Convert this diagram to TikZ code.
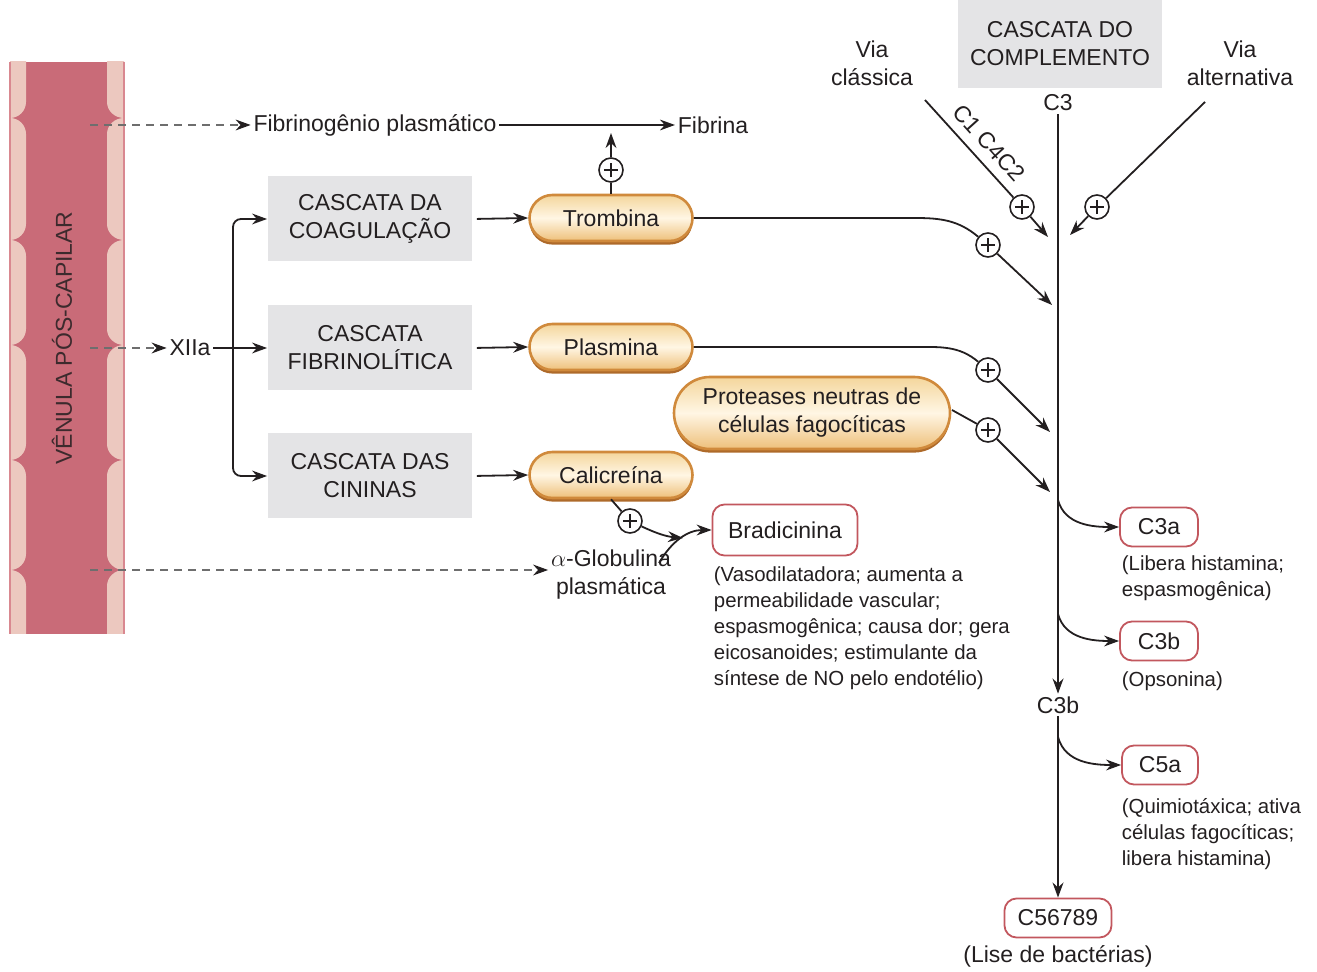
\documentclass[tikz,border=0pt]{standalone}
\usepackage{fontspec}
\setmainfont{Liberation Sans}
\usetikzlibrary{arrows.meta,shapes.misc,shadows,calc}
\definecolor{ink}{HTML}{231F20}
\definecolor{venule}{HTML}{C96B78}
\definecolor{cell}{HTML}{ECC8BF}
\definecolor{venborder}{HTML}{D98890}
\definecolor{boxgray}{HTML}{E4E4E6}
\definecolor{redb}{HTML}{C2575E}
\definecolor{pilltop}{HTML}{F4D69C}
\definecolor{pillmid}{HTML}{FFF6E4}
\definecolor{pillbot}{HTML}{EEC07A}
\definecolor{pilldraw}{HTML}{D08A3C}
\definecolor{pillshadow}{HTML}{AE6A2A}
\definecolor{dashgray}{HTML}{6E6E6E}
\begin{document}
\begin{tikzpicture}[x=0.5pt,y=0.5pt, color=ink, line width=0.9pt,
  >={Stealth[length=7.5pt,width=5.4pt]},
  lbl/.style={font=\fontsize{11.5}{14}\selectfont, text=ink, inner sep=1pt, align=center},
  small/.style={font=\fontsize{10.2}{13}\selectfont, text=ink, inner sep=0pt, align=left},
  graybox/.style={lbl, rectangle, fill=boxgray, draw=none, minimum width=102pt, minimum height=42.5pt},
  pill/.style={lbl, rounded rectangle, draw=pilldraw, line width=1.3pt,
    top color=pilltop, bottom color=pillbot, middle color=pillmid,
    general shadow={fill=pillshadow, shadow xshift=0pt, shadow yshift=-1.8pt},
    minimum width=83.5pt, minimum height=23pt},
  redbox/.style={lbl, rectangle, rounded corners=6pt, draw=redb, line width=0.9pt, fill=white, minimum height=19.5pt},
  pluscirc/.style={circle, draw=ink, line width=0.8pt, fill=white, minimum size=12pt, inner sep=0pt,
    path picture={\draw[line width=0.8pt] (path picture bounding box.center) +(-3.6pt,0) -- +(3.6pt,0) +(0,-3.6pt) -- +(0,3.6pt);}},
  dasharrow/.style={-{Stealth[length=7.5pt,width=5.4pt,color=ink]}, draw=dashgray, dash pattern=on 4pt off 3pt}
]
\useasboundingbox (0,0) rectangle (1317,-972);

% ---- venule ----
\begin{scope}
  \clip (10,-62) rectangle (124,-634);
  \fill[venule] (10,-62) rectangle (124,-634);
  \foreach \a/\b in {20/118, 118/240, 240/345, 345/460, 460/570, 570/690} {
    \fill[cell] (10,-\a) to[out=0,in=90] (26,-\a-16) -- (26,-\b+16) to[out=-90,in=0] (10,-\b) -- cycle;
    \fill[cell] (124,-\a) to[out=180,in=90] (107,-\a-16) -- (107,-\b+16) to[out=-90,in=180] (124,-\b) -- cycle;
  }
\end{scope}
\draw[venborder, line width=1pt] (10,-62) -- (10,-634);
\draw[venborder, line width=1pt] (124,-62) -- (124,-634);
\node[lbl, rotate=90, text=ink!85!venule] (ven) at (62,-338) {VÊNULA PÓS-CAPILAR};

\coordinate (v1) at (90,-125);
\coordinate (v2) at (90,-348);
\coordinate (v3) at (90,-570);

% ---- left part ----
\node[lbl] (fib) at (375,-125) {Fibrinogênio plasmático};
\node[lbl] (fibrina) at (713,-125) {Fibrina};
\node[lbl] (xiia) at (190,-348) {XIIa};
\node[lbl] (alpha) at (611,-575) {$\alpha$-Globulina\\plasmática};

\node[graybox] (box1) at (370,-219) {CASCATA DA\\COAGULAÇÃO};
\node[graybox] (box2) at (370,-348) {CASCATA\\FIBRINOLÍTICA};
\node[graybox] (box3) at (370,-476) {CASCATA DAS\\CININAS};

\node[pill] (tromb) at (611,-218) {Trombina};
\node[pill] (plas) at (611,-347) {Plasmina};
\node[pill] (cal) at (611,-475) {Calicreína};
\node[pill, minimum width=140pt, minimum height=36pt] (prot) at (812,-413) {Proteases neutras de\\células fagocíticas};

\node[redbox, minimum width=72.5pt, minimum height=25.5pt] (brad) at (785,-530) {Bradicinina};
\node[small, anchor=north west] (braddesc) at (713,-566) {(Vasodilatadora; aumenta a\\permeabilidade vascular;\\espasmogênica; causa dor; gera\\eicosanoides; estimulante da\\síntese de NO pelo endotélio)};

\draw[dasharrow] (v1) -- (fib.west);
\draw[dasharrow] (v2) -- (xiia.west);
\draw[dasharrow] (v3) -- (v3 -| alpha.west);
\draw[->] (fib.east) -- (fibrina.west);

\coordinate (br) at (233,-348);
\draw[->] (xiia.east) -- (box2.west);
\draw[->, rounded corners=4pt] (br) |- (box1.west);
\draw[->, rounded corners=4pt] (br) |- (box3.west);

\draw[->, shorten <=2pt] (box1.east) -- (tromb.west);
\draw[->, shorten <=2pt] (box2.east) -- (plas.west);
\draw[->, shorten <=2pt] (box3.east) -- (cal.west);

\node[pluscirc] (pf) at (611,-170) {};
\coordinate (fe) at (611,-133);
\draw (tromb.north) -- (pf);
\draw[->] (pf) -- (fe);

\node[pluscirc] (pc) at (630,-521) {};
\coordinate (ce) at (683,-538);
\coordinate (ga) at (659,-563);
\draw (cal.south) -- (pc);
\draw[->] (pc) to[out=-25,in=175] (ce);
\draw[->] (ga) to[out=60,in=180] (brad.west);

% ---- complement ----
\node[graybox, minimum height=44pt] (compl) at (1060,-44) {CASCATA DO\\COMPLEMENTO};
\node[lbl] (vcl) at (872,-63) {Via\\clássica};
\node[lbl] (valt) at (1240,-63) {Via\\alternativa};
\node[lbl] (c3) at (1058,-103) {C3};
\node[lbl] (c3bl) at (1058,-705) {C3b};
\node[redbox, minimum width=39pt] (c3a) at (1159,-527) {C3a};
\node[redbox, minimum width=39pt] (c3b) at (1159,-641) {C3b};
\node[redbox, minimum width=38pt] (c5a) at (1160,-765) {C5a};
\node[redbox, minimum width=53.5pt] (c56) at (1058,-918) {C56789};
\node[small, anchor=north west] (c3adesc) at (1121,-555) {(Libera histamina;\\espasmogênica)};
\node[small, anchor=north west] (c3bdesc) at (1121,-671) {(Opsonina)};
\node[small, anchor=north west] (c5adesc) at (1121,-798) {(Quimiotáxica; ativa\\células fagocíticas;\\libera histamina)};
\node[lbl] (lise) at (1058,-956) {(Lise de bactérias)};

\draw[->, line width=1.2pt] (c3.south) -- (c3bl.north);
\draw[->, line width=1.2pt] (c3bl.south) -- (c56.north);

\coordinate (cls) at (925,-100);
\coordinate (cle) at (1048,-237);
\node[pluscirc] (pcl) at (1022,-207) {};
\draw (cls) -- (pcl);
\draw[->] (pcl) -- (cle);
\node[lbl, rotate=-48, inner sep=0pt] (c1lab) at (989,-143) {C1 C4C2};

\coordinate (als) at (1205,-102);
\coordinate (ale) at (1070,-235);
\node[pluscirc] (pal) at (1097,-207) {};
\draw (als) -- (pal);
\draw[->] (pal) -- (ale);

\coordinate (t1) at (915,-218);
\node[pluscirc] (pt) at (988,-245) {};
\coordinate (te) at (1052,-305);
\draw (tromb.east) -- (t1) to[out=0,in=140] (pt);
\draw[->] (pt) -- (te);

\coordinate (p1) at (915,-347);
\node[pluscirc] (pp) at (988,-370) {};
\coordinate (pe) at (1050,-432);
\draw (plas.east) -- (p1) to[out=0,in=140] (pp);
\draw[->] (pp) -- (pe);

\node[pluscirc] (pq) at (988,-430) {};
\coordinate (qs) at (952,-410);
\coordinate (qe) at (1050,-492);
\draw (qs) -- (pq);
\draw[->] (pq) -- (qe);

\coordinate (b1) at (1058,-500);
\coordinate (b2) at (1058,-614);
\coordinate (b3) at (1058,-737);
\draw[->] (b1) to[out=-75,in=180] (c3a.west);
\draw[->] (b2) to[out=-75,in=180] (c3b.west);
\draw[->] (b3) to[out=-75,in=180] (c5a.west);
\end{tikzpicture}
\end{document}
